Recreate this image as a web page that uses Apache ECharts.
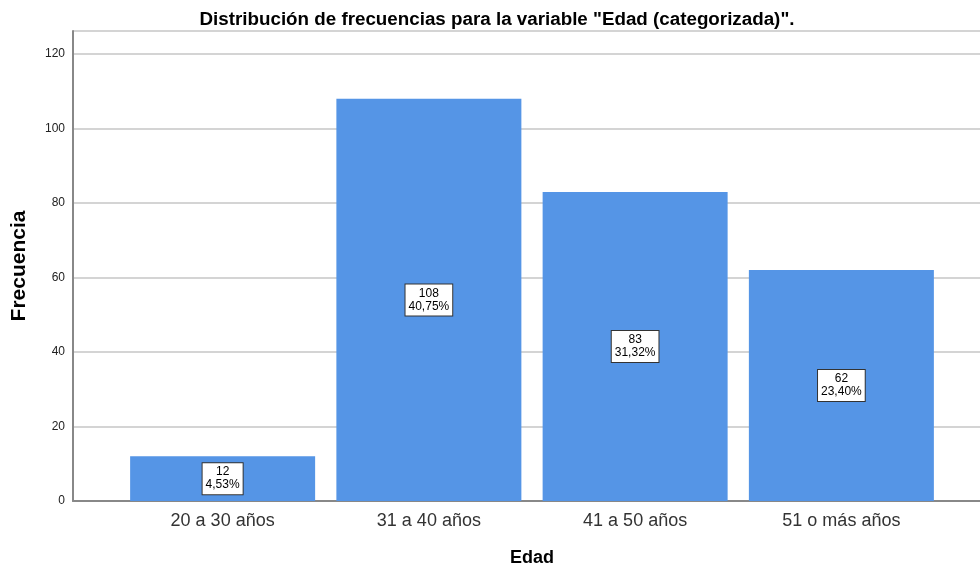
<!DOCTYPE html>
<html><head><meta charset="utf-8">
<script src="https://cdn.jsdelivr.net/npm/echarts@6/dist/echarts.min.js"></script>
<style>html,body{margin:0;padding:0;background:#fff}#c{width:980px;height:567px}</style>
</head><body><div id="c"></div>
<script>
const categories = ["20 a 30 años", "31 a 40 años", "41 a 50 años", "51 o más años"];
const frecuencias = [12, 108, 83, 62];
const porcentajes = ["4,53%", "40,75%", "31,32%", "23,40%"];
const yTicks = [0, 20, 40, 60, 80, 100, 120];

const chart = echarts.init(document.getElementById('c'), null, {renderer: 'canvas'});
const font = 'Arial, "Liberation Sans", sans-serif';
const yMin = 0, yMax = 126.2;
chart.setOption({
  animation: false,
  title: {
    text: 'Distribución de frecuencias para la variable "Edad (categorizada)".',
    left: 492, top: 5, textAlign: 'center',
    textStyle: {fontFamily: font, fontSize: 18.8, fontWeight: 'bold', color: '#000'}
  },
  grid: [
    {left: 119.5, right: 35.5, top: 31, bottom: 66, outerBoundsMode: 'none', containLabel: false},
    {left: 73, right: 0, top: 31, bottom: 66, outerBoundsMode: 'none', containLabel: false}
  ],
  xAxis: [
    {type: 'category', gridIndex: 0, data: categories,
     axisLine: {show: false}, axisTick: {show: false},
     axisLabel: {fontFamily: font, fontSize: 18, color: '#333', margin: 11},
     name: 'Edad', nameLocation: 'middle', nameGap: 48,
     nameTextStyle: {fontFamily: font, fontSize: 18, fontWeight: 'bold', color: '#000'}},
    {type: 'value', gridIndex: 1, min: 0, max: 1,
     axisLine: {show: true, lineStyle: {color: '#888', width: 2}},
     axisTick: {show: false}, axisLabel: {show: false}, splitLine: {show: false}}
  ],
  yAxis: [
    {type: 'value', gridIndex: 0, min: yMin, max: yMax,
     axisLine: {show: false}, axisTick: {show: false}, axisLabel: {show: false}, splitLine: {show: false}},
    {type: 'value', gridIndex: 1, min: yMin, max: yMax, interval: 20,
     axisLine: {show: true, lineStyle: {color: '#888', width: 2}},
     axisTick: {show: false},
     axisLabel: {fontFamily: font, fontSize: 12, color: '#222', margin: 8,
       formatter: v => yTicks.includes(v) ? String(v) : ''},
     splitLine: {show: true, lineStyle: {color: '#d4d4d4', width: 2}},
     name: 'Frecuencia', nameLocation: 'middle', nameGap: 43, nameRotate: 90,
     nameTextStyle: {fontFamily: font, fontSize: 21, fontWeight: 'bold', color: '#000'}}
  ],
  series: [{
    type: 'bar', xAxisIndex: 0, yAxisIndex: 0, z: 5,
    data: frecuencias, barWidth: 185,
    itemStyle: {color: '#5595e6'},
    label: {
      show: true, position: 'inside',
      formatter: p => p.value + '\n' + porcentajes[p.dataIndex],
      fontFamily: font, fontSize: 12, color: '#000', lineHeight: 13,
      backgroundColor: '#fff', borderColor: '#333', borderWidth: 1,
      padding: [3, 3, 2, 3]
    }
  }]
});
</script></body></html>
